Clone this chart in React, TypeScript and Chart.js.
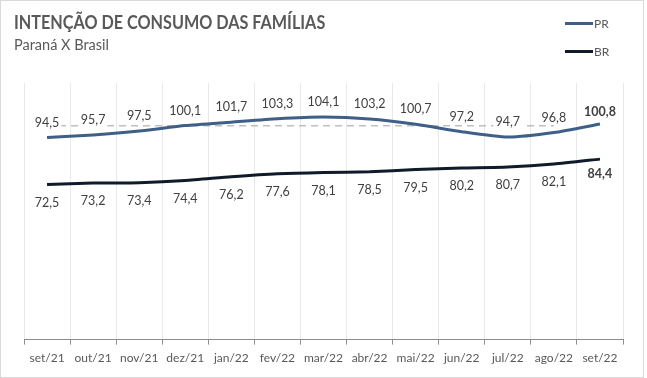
import React, { useEffect, useRef } from "react";
import { Chart, registerables } from "chart.js";

Chart.register(...registerables);

const categories = ["set/21", "out/21", "nov/21", "dez/21", "jan/22", "fev/22", "mar/22", "abr/22", "mai/22", "jun/22", "jul/22", "ago/22", "set/22"];
const prValues = [94.5, 95.7, 97.5, 100.1, 101.7, 103.3, 104.1, 103.2, 100.7, 97.2, 94.7, 96.8, 100.8];
const brValues = [72.5, 73.2, 73.4, 74.4, 76.2, 77.6, 78.1, 78.5, 79.5, 80.2, 80.7, 82.1, 84.4];
const refValues = [100, 100, 100, 100, 100, 100, 100, 100, 100, 100, 100, 100, null];

const PR_COLOR = "#3E5F87";
const BR_COLOR = "#0F1B2B";
const FONT = "Lato, 'Open Sans', sans-serif";

const fmt = (v: number) => v.toFixed(1).replace(".", ",");

const labelPlugin = {
  id: "valueLabels",
  afterDatasetsDraw(chart: any) {
    const ctx = chart.ctx;
    [0, 1].forEach((di) => {
      const meta = chart.getDatasetMeta(di);
      const data = chart.data.datasets[di].data as number[];
      meta.data.forEach((pt: any, i: number) => {
        const last = i === data.length - 1;
        const txt = fmt(data[i]);
        ctx.save();
        ctx.font = `${last ? "bold " : ""}12.5px ${FONT}`;
        ctx.textAlign = "center";
        const w = ctx.measureText(txt).width;
        let yc: number;
        if (di === 0) {
          yc = pt.y - (last ? 12 : 15);
        } else {
          yc = pt.y + (last ? 15 : 18);
        }
        if (di === 0) {
          ctx.fillStyle = "#ffffff";
          ctx.fillRect(pt.x - w / 2 - 2, yc - 7, w + 4, 14);
        }
        ctx.fillStyle = "#404040";
        ctx.textBaseline = "middle";
        ctx.fillText(txt, pt.x, yc);
        ctx.restore();
      });
    });
  },
};

export default function App() {
  const ref = useRef<HTMLCanvasElement>(null);
  useEffect(() => {
    if (!ref.current) return;
    const chart = new Chart(ref.current, {
      type: "line",
      data: {
        labels: categories,
        datasets: [
          {
            label: "PR",
            data: prValues,
            borderColor: PR_COLOR,
            borderWidth: 3,
            pointRadius: 0,
            tension: 0.2,
            order: 1,
          },
          {
            label: "BR",
            data: brValues,
            borderColor: BR_COLOR,
            borderWidth: 3,
            pointRadius: 0,
            tension: 0.2,
            order: 2,
          },
          {
            label: "ref",
            data: refValues,
            borderColor: "#BFBFBF",
            borderWidth: 1.5,
            borderDash: [7, 5],
            pointRadius: 0,
            tension: 0,
            order: 3,
          },
        ],
      },
      options: {
        animation: false,
        responsive: false,
        maintainAspectRatio: false,
        layout: { padding: { left: 23, right: 20, top: 82, bottom: 6 } },
        plugins: {
          legend: { display: false },
          tooltip: { enabled: false },
          title: { display: false },
        },
        scales: {
          x: {
            offset: true,
            grid: {
              offset: true,
              color: "#E9E9E9",
              tickColor: "#8C8C8C",
              tickLength: 5,
              drawTicks: true,
            },
            border: { color: "#8C8C8C", width: 1 },
            ticks: {
              color: "#595959",
              font: { family: FONT, size: 12 },
              padding: 6,
              maxRotation: 0,
              autoSkip: false,
            },
          },
          y: {
            display: false,
            min: 0,
            max: 120,
          },
        },
      },
      plugins: [labelPlugin],
    });
    return () => chart.destroy();
  }, []);

  return (
    <div
      style={{
        position: "fixed",
        left: 0,
        top: 0,
        width: 644,
        height: 378,
        boxSizing: "border-box",
        border: "1px solid #D9D9D9",
        background: "#ffffff",
        fontFamily: FONT,
      }}
    >
      <canvas ref={ref} width={642} height={376} style={{ position: "absolute", left: 0, top: 0 }} />
      <div
        style={{
          position: "absolute",
          left: 13,
          top: 10,
          fontSize: 18,
          fontWeight: 700,
          color: "#595959",
          whiteSpace: "nowrap",
          transform: "scaleX(0.9)",
          transformOrigin: "left center",
        }}
      >
        INTENÇÃO DE CONSUMO DAS FAMÍLIAS
      </div>
      <div
        style={{
          position: "absolute",
          left: 13,
          top: 35,
          fontSize: 14.5,
          color: "#595959",
          whiteSpace: "nowrap",
        }}
      >
        Paraná X Brasil
      </div>
      {[
        { name: "PR", color: PR_COLOR, top: 22 },
        { name: "BR", color: BR_COLOR, top: 50 },
      ].map((l) => (
        <div key={l.name} style={{ position: "absolute", left: 564, top: l.top - 8, height: 16, display: "flex", alignItems: "center" }}>
          <div style={{ width: 28, height: 3, background: l.color }} />
          <span style={{ fontSize: 12, color: "#595959", marginLeft: 1 }}>{l.name}</span>
        </div>
      ))}
    </div>
  );
}
